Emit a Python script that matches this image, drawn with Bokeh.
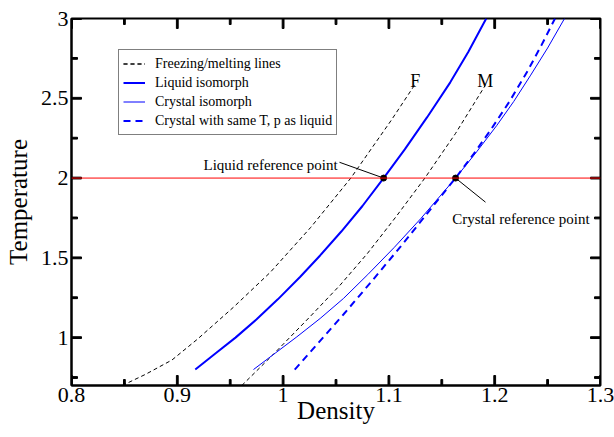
from bokeh.plotting import figure
from bokeh.models import (Range1d, FixedTicker, NumeralTickFormatter, Span, Legend, LegendItem)
from bokeh.core.properties import value
from bokeh.embed import file_html
from bokeh.resources import INLINE

# ---- data ----
freeze_density = [0.848, 0.870, 0.895, 0.919, 0.953, 0.988, 1.026, 1.064, 1.102, 1.125]
freeze_T = [0.70, 0.77, 0.86, 0.99, 1.19, 1.41, 1.69, 2.00, 2.36, 2.59]
melt_density = [0.961, 0.990, 1.026, 1.054, 1.080, 1.107, 1.134, 1.163, 1.191]
melt_T = [0.70, 0.89, 1.135, 1.33, 1.53, 1.76, 2.00, 2.28, 2.58]
liquid_density = [0.917, 0.936, 0.955, 0.975, 0.995, 1.016, 1.035, 1.055, 1.075, 1.095,
                  1.115, 1.136, 1.158, 1.175, 1.192]
liquid_T = [0.80, 0.90, 1.00, 1.115, 1.24, 1.38, 1.515, 1.665, 1.825, 2.00,
            2.18, 2.38, 2.60, 2.79, 3.00]
crystal_density = [0.972, 0.993, 1.013, 1.035, 1.057, 1.080, 1.105, 1.130, 1.163, 1.183,
                   1.202, 1.218, 1.234, 1.250, 1.266]
crystal_T = [0.80, 0.905, 1.005, 1.12, 1.245, 1.395, 1.565, 1.745, 2.00, 2.165,
             2.33, 2.48, 2.645, 2.815, 3.00]
crystal_same_density = [1.011, 1.035, 1.057, 1.084, 1.111, 1.137, 1.163, 1.180, 1.196,
                        1.214, 1.231, 1.244, 1.257]
crystal_same_T = [0.80, 0.98, 1.145, 1.355, 1.57, 1.785, 2.00, 2.15, 2.30,
                  2.48, 2.67, 2.83, 3.00]
ref_density = [1.095, 1.163]
ref_T = [2.0, 2.0]
ref_labels = ["Liquid reference point", "Crystal reference point"]
line_labels = ["F", "M"]
legend_labels = ["Freezing/melting lines", "Liquid isomorph", "Crystal isomorph",
                 "Crystal with same T, p as liquid"]
T_reference = 2.0
x_major_ticks = [0.8, 0.9, 1.0, 1.1, 1.2, 1.3]
x_minor_ticks = [0.85, 0.95, 1.05, 1.15, 1.25]
y_major_ticks = [1.0, 1.5, 2.0, 2.5, 3.0]
y_minor_ticks = [0.75, 1.25, 1.75, 2.25, 2.75]
x_label = "Density"
y_label = "Temperature"

SERIF = "Liberation Serif"
BLUE = "#0000ff"
X0, X1 = 0.8, 1.3
Y0, Y1 = 0.7, 3.0
W, H = 614, 437
BL, BR, BT, BB = 71, 14, 18, 52
FW, FH = W - BL - BR, H - BT - BB          # frame size in px
DX = (X1 - X0) / FW                        # data units per px
DY = (Y1 - Y0) / FH

p = figure(width=W, height=H, output_backend="svg", toolbar_location=None,
           x_range=Range1d(X0, X1), y_range=Range1d(Y0, Y1),
           min_border_left=BL, min_border_right=BR, min_border_top=BT, min_border_bottom=BB,
           x_axis_label=x_label, y_axis_label=y_label)
p.grid.visible = False
p.outline_line_color = "black"
p.outline_line_width = 2
p.background_fill_color = "white"
p.border_fill_color = "white"

p.xaxis.ticker = FixedTicker(ticks=x_major_ticks, minor_ticks=x_minor_ticks)
p.yaxis.ticker = FixedTicker(ticks=y_major_ticks, minor_ticks=y_minor_ticks)

for ax in p.axis:
    ax.axis_line_width = 2
    ax.axis_line_color = "black"
    ax.major_tick_in = 0
    ax.major_tick_out = 0
    ax.minor_tick_in = 0
    ax.minor_tick_out = 0
    ax.formatter = NumeralTickFormatter(format="0.[0]")
    ax.major_label_text_font = SERIF
    ax.major_label_text_font_size = "22px"
    ax.major_label_text_color = "black"
    ax.major_label_standoff = 3
    ax.axis_label_text_font = SERIF
    ax.axis_label_text_font_size = "25px"
    ax.axis_label_text_font_style = "normal"
    ax.axis_label_text_color = "black"

p.xaxis[0].major_label_standoff = 2
p.xaxis[0].axis_label_standoff = -8
p.yaxis[0].axis_label_standoff = 6
p.yaxis[0].major_label_orientation = "horizontal"

# inward tick marks on all four sides, drawn as thin filled bars
HALF = 0.9  # half tick thickness, px
def tick_bars(vals, length, horizontal_axis):
    n = len(vals)
    if horizontal_axis:
        left = [v - HALF * DX for v in vals]
        right = [v + HALF * DX for v in vals]
        p.quad(left=left, right=right, bottom=[Y0] * n, top=[Y0 + length * DY] * n,
               color="black")
        p.quad(left=left, right=right, bottom=[Y1 - length * DY] * n, top=[Y1] * n,
               color="black")
    else:
        bottom = [v - HALF * DY for v in vals]
        top = [v + HALF * DY for v in vals]
        p.quad(left=[X0] * n, right=[X0 + length * DX] * n, bottom=bottom, top=top,
               color="black")
        p.quad(left=[X1 - length * DX] * n, right=[X1] * n, bottom=bottom, top=top,
               color="black")

tick_bars(x_major_ticks, 10, True)
tick_bars(x_minor_ticks, 6, True)
tick_bars(y_major_ticks, 10, False)
tick_bars(y_minor_ticks, 6, False)

# reference temperature line
p.add_layout(Span(location=T_reference, dimension="width", line_color="#ff0000", line_width=1))

# curves
r_f = p.line(freeze_density, freeze_T, line_color="black", line_width=1, line_dash="4 3")
r_m = p.line(melt_density, melt_T, line_color="black", line_width=1, line_dash="4 3")
r_liq = p.line(liquid_density, liquid_T, line_color=BLUE, line_width=2)
r_cry = p.line(crystal_density, crystal_T, line_color=BLUE, line_width=1)
r_same = p.line(crystal_same_density, crystal_same_T, line_color=BLUE, line_width=2,
                line_dash="7 5")

# leader lines from labels to reference points
p.segment(x0=[1.0533, 1.1913], y0=[2.099, 1.849], x1=ref_density, y1=ref_T,
          line_color="black", line_width=1)
p.scatter(ref_density, ref_T, size=6, color="black")

p.text(x=[0.9248, 1.1598], y=[2.081, 1.741], text=ref_labels,
       text_font=value(SERIF), text_font_size="15px", text_color="black",
       text_baseline="alphabetic", text_align="left")
p.text(x=[freeze_density[-1], melt_density[-1]], y=[2.61, 2.61], text=line_labels,
       text_font=value(SERIF), text_font_size="18px", text_color="black",
       text_baseline="alphabetic", text_align="center")

legend = Legend(items=[
    LegendItem(label=legend_labels[0], renderers=[r_f, r_m]),
    LegendItem(label=legend_labels[1], renderers=[r_liq]),
    LegendItem(label=legend_labels[2], renderers=[r_cry]),
    LegendItem(label=legend_labels[3], renderers=[r_same]),
], location=(47, 250))
legend.label_text_font = SERIF
legend.label_text_font_size = "14px"
legend.label_text_color = "black"
legend.glyph_width = 22
legend.glyph_height = 19
legend.label_height = 19
legend.spacing = 0
legend.padding = 4
legend.margin = 0
legend.label_standoff = 10
legend.border_line_color = "black"
legend.border_line_width = 1
legend.background_fill_alpha = 1
p.add_layout(legend)

open("out.html", "w").write(file_html(p, INLINE))
